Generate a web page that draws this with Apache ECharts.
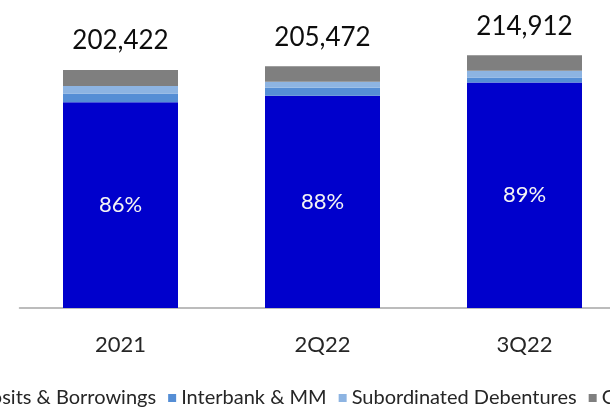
<!DOCTYPE html>
<html>
<head>
<meta charset="utf-8">
<script src="https://cdn.jsdelivr.net/npm/echarts@6/dist/echarts.min.js"></script>
<style>
  html, body { margin: 0; padding: 0; background: #ffffff; }
  #chart { width: 610px; height: 408px; }
</style>
</head>
<body>
<div id="chart"></div>
<script>
// Funding breakdown by period (values in millions)
const categories = ['2021', '2Q22', '3Q22'];
const totals = [202422, 205472, 214912];
const depositsBorrowings = [175000, 180560, 191800];
const interbankMM = [7400, 6800, 4250];
const subordinatedDebentures = [6460, 5100, 5700];
const other = [13562, 13012, 13162];
const shareLabels = ['86%', '88%', '89%'];

const FONT = 'Lato';

const chart = echarts.init(document.getElementById('chart'), null, { renderer: 'canvas' });

const fmt = n => n.toLocaleString('en-US');

chart.setOption({
  animation: false,
  backgroundColor: '#ffffff',
  textStyle: { fontFamily: FONT },
  grid: {
    left: 19.5,
    width: 606,
    top: 14,
    bottom: 100,
    containLabel: false,
    outerBoundsMode: 'none'
  },
  legend: {
    left: -59,
    top: 388,
    width: 1000,
    orient: 'horizontal',
    padding: 0,
    icon: 'rect',
    itemWidth: 8,
    itemHeight: 8,
    itemGap: 12,
    textStyle: { fontFamily: FONT, fontSize: 20, color: '#262626' },
    data: ['Deposits & Borrowings', 'Interbank & MM', 'Subordinated Debentures', 'Other']
  },
  xAxis: {
    type: 'category',
    data: categories,
    axisLine: { lineStyle: { color: '#a6a6a6', width: 1.5 } },
    axisTick: { show: false },
    axisLabel: { fontFamily: FONT, fontSize: 22, color: '#262626', margin: 26 }
  },
  yAxis: {
    type: 'value',
    min: 0,
    max: 250000,
    show: false,
    splitLine: { show: false }
  },
  series: [
    {
      name: 'Deposits & Borrowings',
      type: 'bar',
      stack: 'total',
      barWidth: 115,
      data: depositsBorrowings,
      itemStyle: { color: '#0000cc' },
      label: {
        show: true,
        position: 'inside',
        fontFamily: FONT,
        fontSize: 22,
        color: '#f4f4f4',
        formatter: p => shareLabels[p.dataIndex]
      }
    },
    {
      name: 'Interbank & MM',
      type: 'bar',
      stack: 'total',
      barWidth: 115,
      data: interbankMM,
      itemStyle: { color: '#558ed5' }
    },
    {
      name: 'Subordinated Debentures',
      type: 'bar',
      stack: 'total',
      barWidth: 115,
      data: subordinatedDebentures,
      itemStyle: { color: '#8db4e2' }
    },
    {
      name: 'Other',
      type: 'bar',
      stack: 'total',
      barWidth: 115,
      data: other,
      itemStyle: { color: '#7f7f7f' },
      label: {
        show: true,
        position: 'top',
        distance: 16,
        fontFamily: FONT,
        fontSize: 26,
        color: '#0d0d0d',
        formatter: p => fmt(totals[p.dataIndex])
      }
    }
  ]
});
</script>
</body>
</html>
